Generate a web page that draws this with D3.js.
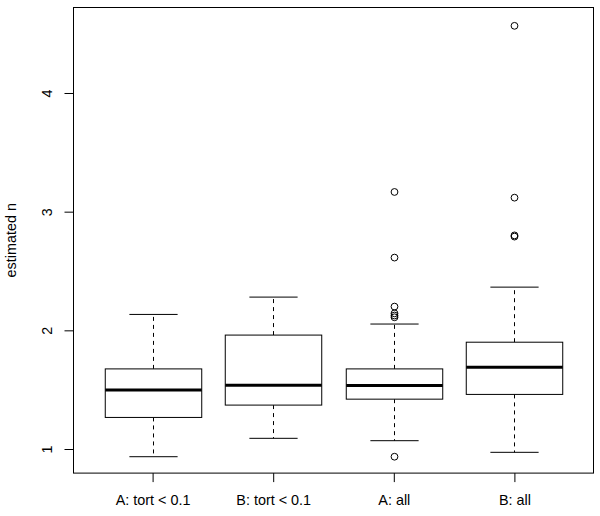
<!DOCTYPE html>
<html>
<head>
<meta charset="utf-8">
<script src="https://cdn.jsdelivr.net/npm/d3@7"></script>
<style>
html,body{margin:0;padding:0;background:#fff;}
svg{display:block;font-family:"Liberation Sans",Arial,Helvetica,sans-serif;}
</style>
</head>
<body>
<svg id="chart" width="600" height="516"></svg>
<script>
const categories = ["A: tort < 0.1", "B: tort < 0.1", "A: all", "B: all"];
const lowerWhisker = [0.935, 1.09, 1.07, 0.972];
const q1 = [1.266, 1.37, 1.42, 1.46];
const median = [1.498, 1.538, 1.535, 1.689];
const q3 = [1.675, 1.96, 1.675, 1.90];
const upperWhisker = [2.134, 2.28, 2.053, 2.364];
const outliers = [[], [], [3.166, 2.613, 2.2, 2.143, 2.125, 2.11, 0.935], [4.566, 3.118, 2.80, 2.79]];
const yTicks = [1, 2, 3, 4];
const yLabel = "estimated n";

const svg = d3.select("#chart");
const L = 73, R = 594, T = 7, B = 473.6;
const x = d3.scaleLinear().domain([0.34, categories.length + 0.66]).range([L, R]);
const y = d3.scaleLinear().domain([0.7927, 4.7247]).range([B, T]);
const boxW = x(1.8) - x(1);
const capW = boxW / 2;

const groups = categories.map((c, i) => ({
  c, i, lo: lowerWhisker[i], q1: q1[i], med: median[i], q3: q3[i], hi: upperWhisker[i], out: outliers[i]
}));

const g = svg.append("g");
groups.forEach(d => {
  const cx = Math.round(x(d.i + 1)) + 0.5;
  // whiskers
  g.append("line").attr("x1", cx).attr("x2", cx).attr("y1", y(d.q3)).attr("y2", y(d.hi))
    .attr("stroke", "#000").attr("stroke-width", 1).attr("stroke-dasharray", "4,4");
  g.append("line").attr("x1", cx).attr("x2", cx).attr("y1", y(d.q1)).attr("y2", y(d.lo))
    .attr("stroke", "#000").attr("stroke-width", 1).attr("stroke-dasharray", "4,4");
  // caps
  [d.lo, d.hi].forEach(v => {
    g.append("line").attr("x1", cx - capW / 2).attr("x2", cx + capW / 2)
      .attr("y1", y(v)).attr("y2", y(v)).attr("stroke", "#000").attr("stroke-width", 1);
  });
  // box
  g.append("rect").attr("x", cx - boxW / 2).attr("width", boxW)
    .attr("y", y(d.q3)).attr("height", y(d.q1) - y(d.q3))
    .attr("fill", "#fff").attr("stroke", "#000").attr("stroke-width", 1);
  // median
  g.append("line").attr("x1", cx - boxW / 2).attr("x2", cx + boxW / 2)
    .attr("y1", y(d.med)).attr("y2", y(d.med)).attr("stroke", "#000").attr("stroke-width", 3);
  // outliers
  g.selectAll(null).data(d.out).enter().append("circle")
    .attr("cx", cx).attr("cy", v => y(v)).attr("r", 3.4)
    .attr("fill", "none").attr("stroke", "#000").attr("stroke-width", 1);
});

// frame
svg.append("rect").attr("x", L + 0.5).attr("y", T + 0.5)
  .attr("width", R - L - 1).attr("height", B - T - 1)
  .attr("fill", "none").attr("stroke", "#000").attr("stroke-width", 1);

// y axis
const ya = svg.append("g").attr("transform", `translate(${L + 0.5},0)`)
  .call(d3.axisLeft(y).tickValues(yTicks).tickFormat(d3.format("d")).tickSize(9).tickPadding(3));
ya.select(".domain").remove();
ya.selectAll(".tick line").attr("stroke", "#000");
ya.selectAll(".tick text").attr("fill", "#000").style("font-size", "14.4px")
  .attr("text-anchor", "middle").attr("x", null).attr("dy", null)
  .attr("transform", "translate(-21.5,0) rotate(-90)").attr("y", 0);

// x axis
const xa = svg.append("g").attr("transform", `translate(0,${B - 0.5})`)
  .call(d3.axisBottom(x).tickValues(categories.map((c, i) => i + 1))
    .tickFormat((d, i) => categories[i]).tickSize(9).tickPadding(0));
xa.select(".domain").remove();
xa.selectAll(".tick line").attr("stroke", "#000");
xa.selectAll(".tick text").attr("fill", "#000").style("font-size", "14.4px")
  .attr("dy", null).attr("y", 32);

// y label
svg.append("text").attr("transform", `translate(16,${(T + B) / 2}) rotate(-90)`)
  .attr("text-anchor", "middle").style("font-size", "14.4px").attr("fill", "#000").text(yLabel);
</script>
</body>
</html>
